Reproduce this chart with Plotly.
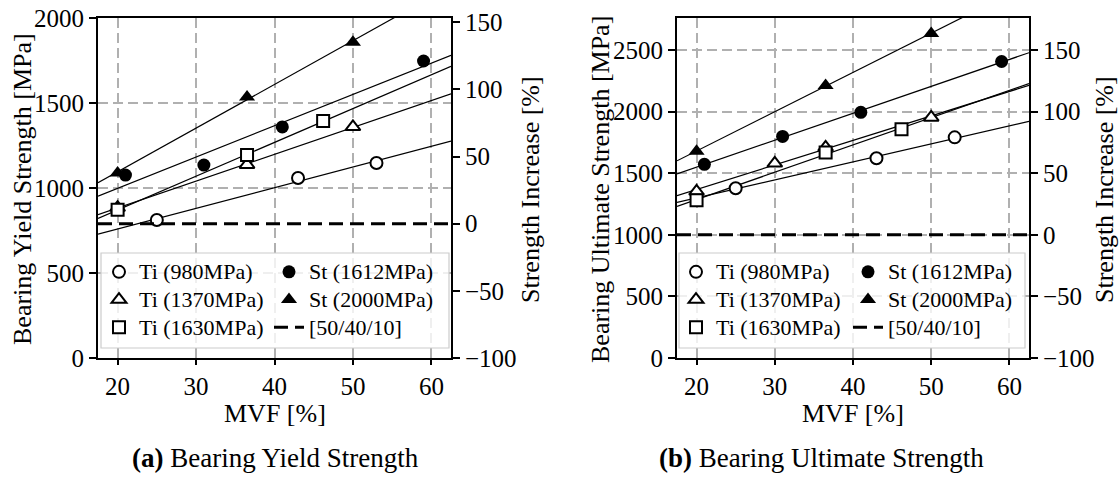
import numpy as np
import plotly.graph_objects as go

# ---------------- data ----------------
# (a) Bearing yield strength [MPa] vs MVF [%]
ti980_mvf_a = [25, 43, 53]
ti980_val_a = [812, 1059, 1147]
ti1370_mvf_a = [20, 36.5, 50]
ti1370_val_a = [885, 1137, 1360]
ti1630_mvf_a = [20, 36.5, 46.2]
ti1630_val_a = [872, 1194, 1394]
st1612_mvf_a = [21, 31, 41, 59]
st1612_val_a = [1076, 1135, 1359, 1747]
st2000_mvf_a = [20, 36.5, 50]
st2000_val_a = [1088, 1535, 1858]
ref_val_a = 790  # [50/40/10] baseline [MPa]

# (b) Bearing ultimate strength [MPa] vs MVF [%]
ti980_mvf_b = [25, 43, 53]
ti980_val_b = [1378, 1621, 1791]
ti1370_mvf_b = [20, 30, 36.5, 50]
ti1370_val_b = [1353, 1580, 1710, 1953]
ti1630_mvf_b = [20, 36.5, 46.2]
ti1630_val_b = [1280, 1669, 1856]
st1612_mvf_b = [21, 31, 41, 59]
st1612_val_b = [1572, 1799, 1994, 2407]
st2000_mvf_b = [20, 36.5, 50]
st2000_val_b = [1678, 2212, 2634]
ref_val_b = 1000  # [50/40/10] baseline [MPa]

series_names = ["Ti (980MPa)", "Ti (1370MPa)", "Ti (1630MPa)",
                "St (1612MPa)", "St (2000MPa)", "[50/40/10]"]
x_ticks = [20, 30, 40, 50, 60]
y_ticks_a = [0, 500, 1000, 1500, 2000]
y_ticks_b = [0, 500, 1000, 1500, 2000, 2500]
pct_ticks = [-100, -50, 0, 50, 100, 150]

# ---------------- layout constants ----------------
W, H = 1119, 477
FONT = "Liberation Serif"
X_RANGE = [17.5, 62.5]
Y_TOP_A = 2000
Y_TOP_B = 2760
LEG_TEXT = '<span style="font-size:22px">{}</span>'


def fx(p):
    return p / W


def fy(p):
    return 1 - p / H


marker_styles = {
    "Ti (980MPa)": dict(symbol="circle", size=12, color="white",
                        line=dict(color="black", width=2)),
    "Ti (1370MPa)": dict(symbol="triangle-up", size=13, color="white",
                         line=dict(color="black", width=2)),
    "Ti (1630MPa)": dict(symbol="square", size=12, color="white",
                         line=dict(color="black", width=2)),
    "St (1612MPa)": dict(symbol="circle", size=13, color="black",
                         line=dict(color="black", width=0)),
    "St (2000MPa)": dict(symbol="triangle-up", size=14, color="black",
                         line=dict(color="black", width=0)),
}

fig = go.Figure()


def add_panel(xs_list, ys_list, ref, xa, ya, ya_pct, legs):
    # fitted trend lines
    for xs, ys in zip(xs_list, ys_list):
        k, b = np.polyfit(xs, ys, 1)
        xf = np.array(X_RANGE)
        fig.add_trace(go.Scatter(x=xf, y=k * xf + b, mode="lines",
                                 line=dict(color="black", width=1.2),
                                 showlegend=False, hoverinfo="skip",
                                 xaxis=xa, yaxis=ya))
    # reference dashed line: baseline = 0 % strength increase
    ref_pct = (ref / ref - 1) * 100
    fig.add_trace(go.Scatter(x=X_RANGE, y=[ref_pct, ref_pct], mode="lines",
                             name=LEG_TEXT.format(series_names[5]),
                             line=dict(color="black", width=3, dash="14px,7px"),
                             xaxis=xa, yaxis=ya_pct, legend=legs[1],
                             legendrank=3))
    # markers
    for i, (xs, ys) in enumerate(zip(xs_list, ys_list)):
        nm = series_names[i]
        fig.add_trace(go.Scatter(x=xs, y=ys, mode="markers",
                                 name=LEG_TEXT.format(nm),
                                 marker=marker_styles[nm],
                                 xaxis=xa, yaxis=ya,
                                 legend=legs[0] if i < 3 else legs[1],
                                 legendrank=(i % 3) + 1))


add_panel([ti980_mvf_a, ti1370_mvf_a, ti1630_mvf_a, st1612_mvf_a, st2000_mvf_a],
          [ti980_val_a, ti1370_val_a, ti1630_val_a, st1612_val_a, st2000_val_a],
          ref_val_a, "x", "y", "y2", ["legend", "legend2"])
add_panel([ti980_mvf_b, ti1370_mvf_b, ti1630_mvf_b, st1612_mvf_b, st2000_mvf_b],
          [ti980_val_b, ti1370_val_b, ti1630_val_b, st1612_val_b, st2000_val_b],
          ref_val_b, "x2", "y3", "y4", ["legend3", "legend4"])

tick_font = dict(family=FONT, size=25, color="black")
grid = dict(showgrid=True, gridcolor="#b0b0b0", gridwidth=1.5, griddash="10px,5px")

common_x = dict(range=X_RANGE, tickvals=x_ticks, showline=True, mirror=True,
                linecolor="black", linewidth=2, ticks="outside", ticklen=5,
                tickwidth=2, tickcolor="black", tickfont=tick_font,
                zeroline=False, automargin=False, **grid)
common_y = dict(showline=True, linecolor="black", linewidth=2, ticks="outside",
                ticklen=7, tickwidth=2, tickcolor="black", tickfont=tick_font,
                zeroline=False, automargin=False, **grid)
common_pct = dict(side="right", showline=True, linecolor="black", linewidth=2,
                  ticks="outside", ticklen=7, tickwidth=2, tickcolor="black",
                  tickfont=tick_font, zeroline=False, showgrid=False,
                  automargin=False, tickvals=pct_ticks)

ydom = [fy(358), fy(18)]

legend_common = dict(orientation="v", bgcolor="rgba(0,0,0,0)", borderwidth=0,
                     font=dict(family=FONT, size=19, color="black"),
                     xanchor="left", yanchor="top", tracegroupgap=0,
                     itemclick=False, itemdoubleclick=False)

LEG_TOP = 253

fig.update_layout(
    template="none",
    width=W, height=H,
    margin=dict(l=0, r=0, t=0, b=0, pad=0),
    paper_bgcolor="white", plot_bgcolor="white",
    font=dict(family=FONT, size=25, color="black"),
    xaxis=dict(domain=[fx(98), fx(451)], anchor="y", **common_x),
    yaxis=dict(domain=ydom, anchor="x", range=[0, Y_TOP_A], tickvals=y_ticks_a,
               **common_y),
    yaxis2=dict(overlaying="y", anchor="x",
                range=[-100, Y_TOP_A / ref_val_a * 100 - 100], **common_pct),
    xaxis2=dict(domain=[fx(677), fx(1029)], anchor="y3", **common_x),
    yaxis3=dict(domain=ydom, anchor="x2", range=[0, Y_TOP_B], tickvals=y_ticks_b,
                **common_y),
    yaxis4=dict(overlaying="y3", anchor="x2",
                range=[-100, Y_TOP_B / ref_val_b * 100 - 100], **common_pct),
    legend=dict(x=fx(99), y=fy(LEG_TOP), **legend_common),
    legend2=dict(x=fx(269), y=fy(LEG_TOP), **legend_common),
    legend3=dict(x=fx(676), y=fy(LEG_TOP), **legend_common),
    legend4=dict(x=fx(848), y=fy(LEG_TOP), **legend_common),
    showlegend=True,
)

# legend frames (one box per panel, two columns inside)
for (x0, x1) in [(101, 449), (679, 1025)]:
    fig.add_shape(type="rect", xref="paper", yref="paper",
                  x0=fx(x0), x1=fx(x1), y0=fy(348), y1=fy(253),
                  fillcolor="rgba(255,255,255,0.8)",
                  line=dict(color="#cccccc", width=1.2), layer="above")

ann = []
# axis titles
ann.append(dict(text="MVF [%]", x=fx(275), y=fy(413)))
ann.append(dict(text="MVF [%]", x=fx(853), y=fy(413)))
ann.append(dict(text="Bearing Yield Strength [MPa]", x=fx(22), y=fy(189), textangle=-90))
ann.append(dict(text="Strength Increase [%]", x=fx(530), y=fy(190), textangle=-90))
ann.append(dict(text="Bearing Ultimate Strength [MPa]", x=fx(600), y=fy(190), textangle=-90))
ann.append(dict(text="Strength Increase [%]", x=fx(1104), y=fy(190), textangle=-90))
for a in ann:
    fig.add_annotation(xref="paper", yref="paper", showarrow=False,
                       xanchor="center", yanchor="middle",
                       font=dict(family=FONT, size=26, color="black"), **a)
# captions
for txt, xc in [("<b>(a)</b> Bearing Yield Strength", 275),
                ("<b>(b)</b> Bearing Ultimate Strength", 821)]:
    fig.add_annotation(text=txt, x=fx(xc), y=fy(458), xref="paper", yref="paper",
                       showarrow=False, xanchor="center", yanchor="middle",
                       font=dict(family=FONT, size=27, color="black"))

fig.write_html("out.html")
